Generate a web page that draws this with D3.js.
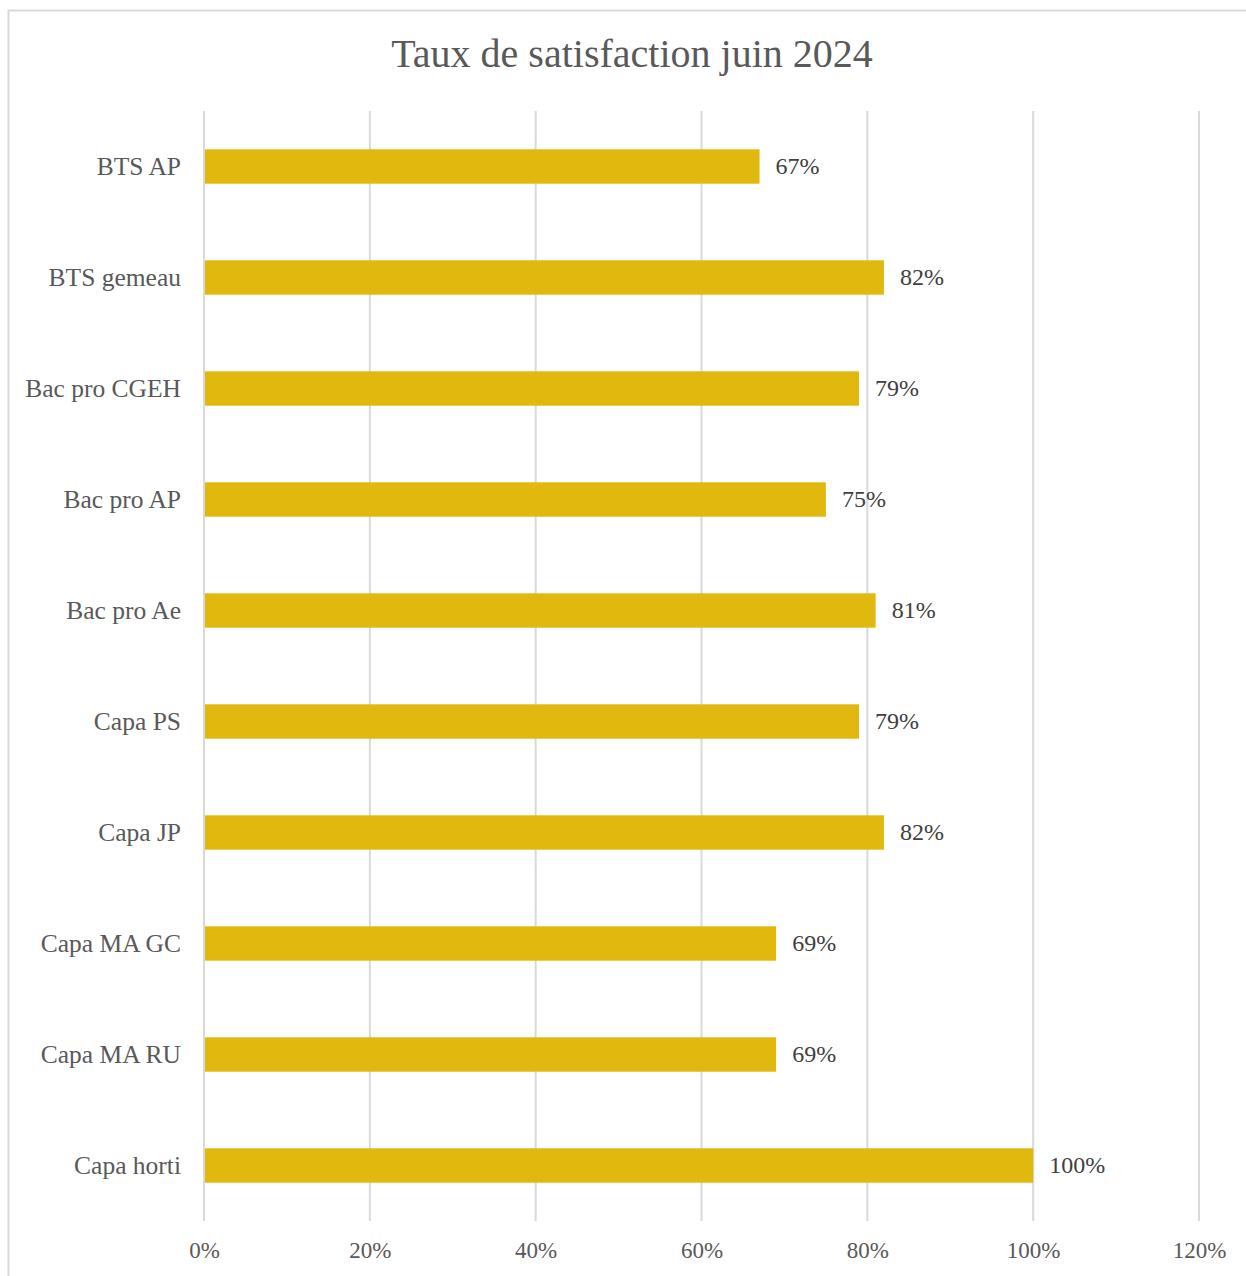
<!DOCTYPE html>
<html lang="fr">
<head>
<meta charset="utf-8">
<title>Taux de satisfaction juin 2024</title>
<style>
body {
  margin: 0;
  background: #fff;
}
svg text {
  font-family: "Liberation Serif", "DejaVu Serif", serif;
}
</style>
</head>
<body>
<div id="chart"></div>
<script src="https://cdn.jsdelivr.net/npm/d3@7"></script>
<script>

var categories = ["BTS AP", "BTS gemeau", "Bac pro CGEH", "Bac pro AP", "Bac pro Ae",
                  "Capa PS", "Capa JP", "Capa MA GC", "Capa MA RU", "Capa horti"];
var values = [0.67, 0.82, 0.79, 0.75, 0.81, 0.79, 0.82, 0.69, 0.69, 1.00];
var ticks = [0, 0.2, 0.4, 0.6, 0.8, 1.0, 1.2];
var title = "Taux de satisfaction juin 2024";

var width = 1246, height = 1276;
var margin = {top: 111, right: 47, bottom: 55, left: 204};

var svg = d3.select("#chart").append("svg")
  .attr("width", width)
  .attr("height", height);

// chart frame (right and bottom edges run off the page)
svg.append("rect")
  .attr("x", 8.5).attr("y", 10.5)
  .attr("width", 1260).attr("height", 1300)
  .attr("fill", "none")
  .attr("stroke", "#d9d9d9")
  .attr("stroke-width", 2);

var x = d3.scaleLinear()
  .domain([0, 1.2])
  .range([margin.left, width - margin.right]);

var y = d3.scaleBand()
  .domain(categories)
  .range([margin.top, height - margin.bottom])
  .paddingInner(0.69)
  .paddingOuter(0.345);

// title
svg.append("text")
  .attr("x", 632)
  .attr("y", 67)
  .attr("text-anchor", "middle")
  .attr("fill", "#595959")
  .style("font-size", "40px")
  .text(title);

// gridlines
svg.append("g")
  .selectAll("line")
  .data(ticks)
  .join("line")
  .attr("x1", d => x(d)).attr("x2", d => x(d))
  .attr("y1", margin.top).attr("y2", height - margin.bottom)
  .attr("stroke", "#d9d9d9")
  .attr("stroke-width", 2);

// x axis labels
var xAxis = d3.axisBottom(x)
  .tickValues(ticks)
  .tickFormat(d3.format(".0%"))
  .tickSize(0)
  .tickPadding(21);

var gx = svg.append("g")
  .attr("transform", "translate(0," + (height - margin.bottom) + ")")
  .call(xAxis);
gx.select(".domain").remove();
gx.selectAll("text")
  .attr("fill", "#595959")
  .style("font-size", "23px")
  .style("font-family", "'Liberation Serif', serif");

// y axis labels
var yAxis = d3.axisLeft(y).tickSize(0).tickPadding(23);
var gy = svg.append("g")
  .attr("transform", "translate(" + margin.left + ",0)")
  .call(yAxis);
gy.select(".domain").remove();
gy.selectAll("text")
  .attr("fill", "#595959")
  .style("font-size", "25.5px")
  .style("font-family", "'Liberation Serif', serif");

// bars
svg.append("g")
  .selectAll("rect")
  .data(values)
  .join("rect")
  .attr("x", x(0) + 1)
  .attr("y", (d, i) => y(categories[i]))
  .attr("width", d => x(d) - x(0) - 1)
  .attr("height", y.bandwidth())
  .attr("fill", "#e1b80d");

// value labels
svg.append("g")
  .selectAll("text")
  .data(values)
  .join("text")
  .attr("x", d => x(d) + 16)
  .attr("y", (d, i) => y(categories[i]) + y.bandwidth() / 2)
  .attr("dy", "0.33em")
  .attr("fill", "#404040")
  .style("font-size", "24px")
  .text(d => d3.format(".0%")(d));

</script>
</body>
</html>
